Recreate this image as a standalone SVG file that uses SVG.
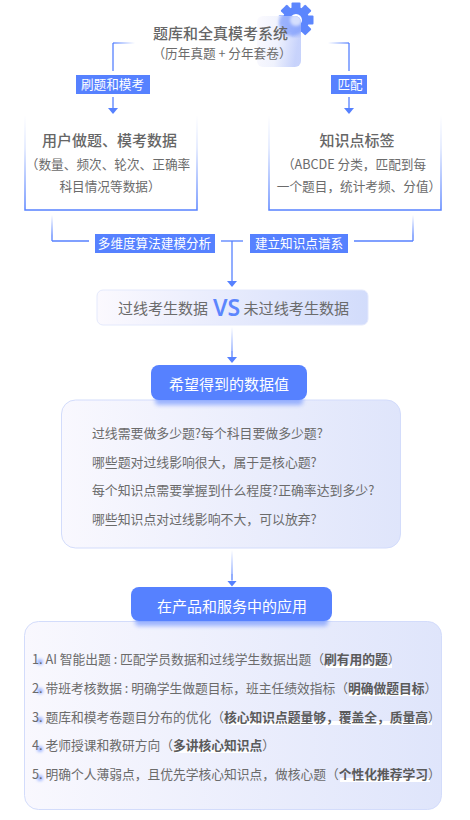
<svg xmlns="http://www.w3.org/2000/svg" width="470" height="820" viewBox="0 0 470 820">
<style>
text{font-family:"Noto Sans CJK SC","Noto Sans",sans-serif;fill:#6b6b6b;font-size:12.870px}
.t{font-size:15px;font-weight:500;text-anchor:middle;fill:#666}
.c{text-anchor:middle;font-size:12.650px}
.l{fill:#fff;font-size:12.600px;text-anchor:middle}
.h{fill:#fff;font-size:15px;text-anchor:middle}
.a{font-size:12.750px}
.b{font-weight:700;fill:#5a5a5a}
.lab{fill:#5681ff}
.ln{fill:none;stroke:#5681ff;stroke-width:1.3}
.dot{fill:#5681ff;opacity:.55;filter:url(#bl)}
</style>
<defs>
<marker id="ah" viewBox="0 0 6 10" refX="0" refY="5" markerWidth="6" markerHeight="10" markerUnits="userSpaceOnUse" orient="auto"><path d="M0 0L6 5L0 10Z" fill="#5681ff"/></marker>
<linearGradient id="gb" x1="0" x2="0" y1="0" y2="1"><stop offset="0" stop-color="#5681ff" stop-opacity="0"/><stop offset=".35" stop-color="#5681ff" stop-opacity=".2"/><stop offset="1" stop-color="#5681ff"/></linearGradient>
<linearGradient id="gl" gradientUnits="userSpaceOnUse" x1="113" x2="135" y1="0" y2="0"><stop offset="0" stop-color="#5681ff"/><stop offset="1" stop-color="#5681ff" stop-opacity="0"/></linearGradient>
<linearGradient id="gr" gradientUnits="userSpaceOnUse" x1="349" x2="328" y1="0" y2="0"><stop offset="0" stop-color="#5681ff"/><stop offset="1" stop-color="#5681ff" stop-opacity="0"/></linearGradient>
<linearGradient id="gv" gradientUnits="userSpaceOnUse" x1="0" x2="0" y1="215" y2="241"><stop offset="0" stop-color="#5681ff" stop-opacity="0"/><stop offset=".8" stop-color="#5681ff"/></linearGradient>
<linearGradient id="g2" gradientUnits="userSpaceOnUse" x1="0" x2="0" y1="327" y2="358"><stop offset="0" stop-color="#5681ff" stop-opacity="0"/><stop offset="1" stop-color="#5681ff"/></linearGradient>
<linearGradient id="g3" gradientUnits="userSpaceOnUse" x1="0" x2="0" y1="550" y2="581"><stop offset="0" stop-color="#5681ff" stop-opacity="0"/><stop offset="1" stop-color="#5681ff"/></linearGradient>
<linearGradient id="fill" x1="0" x2="1" y1="0" y2="0"><stop offset="0" stop-color="#f9f8fe"/><stop offset="1" stop-color="#dfe5fb"/></linearGradient>
<linearGradient id="fvs" x1="0" x2="1" y1="0" y2="0"><stop offset="0" stop-color="#fbf9fe"/><stop offset="1" stop-color="#d2dcfb"/></linearGradient>
<linearGradient id="glass" x1="0" x2="1" y1="0" y2=".2"><stop offset="0" stop-color="#fbfafe"/><stop offset=".55" stop-color="#eef1fd"/><stop offset="1" stop-color="#c4d0fb"/></linearGradient>
<filter id="bl" x="-100%" y="-100%" width="300%" height="300%"><feGaussianBlur stdDeviation="1.5"/></filter>
<filter id="bl2" x="-20%" y="-100%" width="140%" height="300%"><feGaussianBlur stdDeviation="2"/></filter>
<clipPath id="gc"><rect x="257" y="16" width="44" height="51" rx="6"/></clipPath>
<rect id="tooth" x="291.500" y="2.500" width="9" height="7" rx="1" fill="#5c86fd"/>
</defs>

<g id="connectors">
<path d="M135 43H113" stroke="url(#gl)" stroke-width="1.3" fill="none"/>
<path d="M113 43V71" class="ln"/>
<path d="M328 43H349" stroke="url(#gr)" stroke-width="1.3" fill="none"/>
<path d="M349 43V71" class="ln"/>
<path d="M113 97V108" class="ln" marker-end="url(#ah)"/>
<path d="M349 97V108" class="ln" marker-end="url(#ah)"/>
<path d="M52 215V241" stroke="url(#gv)" stroke-width="1.3" fill="none"/>
<path d="M52 241H89" class="ln"/>
<path d="M221 241H243" class="ln"/>
<path d="M354 241H413" class="ln"/>
<path d="M413 215V241" stroke="url(#gv)" stroke-width="1.3" fill="none"/>
<path d="M232 241V281" class="ln" marker-end="url(#ah)"/>
<path d="M232 327V351" stroke="url(#g2)" stroke-width="1.3" fill="none"/>
<path d="M232 351V357" class="ln" marker-end="url(#ah)"/>
<path d="M232 550V574" stroke="url(#g3)" stroke-width="1.3" fill="none"/>
<path d="M232 574V580.500" class="ln" marker-end="url(#ah)"/>
</g>

<g id="node-system">
<circle cx="296" cy="20" r="13" fill="#5c86fd"/>
<use href="#tooth"/>
<use href="#tooth" transform="rotate(45 296 20)"/>
<use href="#tooth" transform="rotate(90 296 20)"/>
<use href="#tooth" transform="rotate(135 296 20)"/>
<use href="#tooth" transform="rotate(180 296 20)"/>
<use href="#tooth" transform="rotate(225 296 20)"/>
<use href="#tooth" transform="rotate(270 296 20)"/>
<use href="#tooth" transform="rotate(315 296 20)"/>
<circle cx="296" cy="20" r="6" fill="#fff"/>
<rect x="257" y="16" width="44" height="51" rx="6" fill="url(#glass)" opacity=".94"/>
<g clip-path="url(#gc)"><circle cx="292" cy="23" r="13" fill="#6d90fd" opacity=".6" filter="url(#bl)"/><circle cx="296" cy="20" r="6" fill="#d5dffd" filter="url(#bl)"/></g>
<text class="t" x="220.500" y="39">题库和全真模考系统</text>
<text class="c" x="222" y="58">（历年真题 + 分年套卷）</text>
</g>

<g id="label-1"><rect class="lab" x="76" y="75" width="74" height="19"/><text class="l" x="112.500" y="89">刷题和模考</text></g>
<g id="label-2"><rect class="lab" x="331" y="75" width="36" height="19"/><text class="l" x="350" y="89">匹配</text></g>

<g id="node-user">
<path d="M25 115V210H197V115" fill="none" stroke="url(#gb)" stroke-width="1.5"/>
<text class="t" x="109.500" y="146">用户做题、模考数据</text>
<text class="c" x="108" y="169">（数量、频次、轮次、正确率</text>
<text class="c" x="110" y="191">科目情况等数据）</text>
</g>

<g id="node-tag">
<path d="M269 115V210H441V115" fill="none" stroke="url(#gb)" stroke-width="1.5"/>
<text class="t" x="357" y="146">知识点标签</text>
<text class="c" x="354" y="169">（ABCDE 分类，匹配到每</text>
<text class="c" x="359" y="191">一个题目，统计考频、分值）</text>
</g>

<g id="label-3"><rect class="lab" x="95" y="234" width="120" height="19"/><text class="l" x="154.500" y="248">多维度算法建模分析</text></g>
<g id="label-4"><rect class="lab" x="250" y="234" width="98" height="19"/><text class="l" x="299" y="248">建立知识点谱系</text></g>

<g id="node-vs">
<rect x="97" y="290" width="271" height="35" rx="6" fill="url(#fvs)" stroke="#e4e9fc"/>
<text x="118" y="314" style="font-size:15px">过线考生数据</text>
<text x="213" y="316" style="font-size:23px;font-weight:600;fill:#5c86fd;font-family:'Noto Sans',sans-serif">VS</text>
<text x="243.500" y="314" style="font-size:15.100px">未过线考生数据</text>
</g>

<g id="node-values">
<rect x="61.500" y="400" width="339" height="148" rx="14" fill="url(#fill)" stroke="#d3dcfb"/>
<rect x="155" y="396" width="148" height="9" rx="4" fill="#5681ff" opacity=".55" filter="url(#bl2)"/>
<rect x="151" y="365" width="156" height="35" rx="8" fill="#5681ff"/>
<text class="h" x="229" y="390">希望得到的数据值</text>
<text x="92" y="438">过线需要做多少题?每个科目要做多少题?</text>
<text x="92" y="467">哪些题对过线影响很大，属于是核心题?</text>
<text x="92" y="495">每个知识点需要掌握到什么程度?正确率达到多少?</text>
<text x="92" y="524">哪些知识点对过线影响不大，可以放弃?</text>
</g>

<g id="node-apply">
<rect x="24.500" y="621.500" width="417" height="188" rx="14" fill="url(#fill)" stroke="#d3dcfb"/>
<rect x="135" y="617" width="193" height="9" rx="4" fill="#5681ff" opacity=".55" filter="url(#bl2)"/>
<rect x="131" y="587" width="201" height="34" rx="8" fill="#5681ff"/>
<text class="h" x="232" y="612">在产品和服务中的应用</text>
<circle class="dot" cx="40" cy="662" r="3"/>
<circle class="dot" cx="40" cy="691" r="3"/>
<circle class="dot" cx="40" cy="720" r="3"/>
<circle class="dot" cx="40" cy="749" r="3"/>
<circle class="dot" cx="40" cy="778" r="3"/>
<rect x="326" y="664" width="66" height="4" fill="#fff"/>
<rect x="349" y="692" width="68" height="4" fill="#fff"/>
<rect x="226" y="721" width="206" height="4" fill="#fff"/>
<rect x="175" y="749" width="78" height="4" fill="#fff"/>
<rect x="340" y="778" width="90" height="4" fill="#fff"/>
<text class="a" x="32" y="664">1. AI 智能出题 : 匹配学员数据和过线学生数据出题（<tspan class="b">刷有用的题</tspan>）</text>
<text class="a" x="32" y="693">2. 带班考核数据 : 明确学生做题目标，班主任绩效指标（<tspan class="b">明确做题目标</tspan>）</text>
<text class="a" x="32" y="722">3. 题库和模考卷题目分布的优化（<tspan class="b">核心知识点题量够，覆盖全，质量高</tspan>）</text>
<text class="a" x="32" y="750">4. 老师授课和教研方向（<tspan class="b">多讲核心知识点</tspan>）</text>
<text class="a" x="32" y="779">5. 明确个人薄弱点，且优先学核心知识点，做核心题（<tspan class="b">个性化推荐学习</tspan>）</text>
</g>
</svg>
